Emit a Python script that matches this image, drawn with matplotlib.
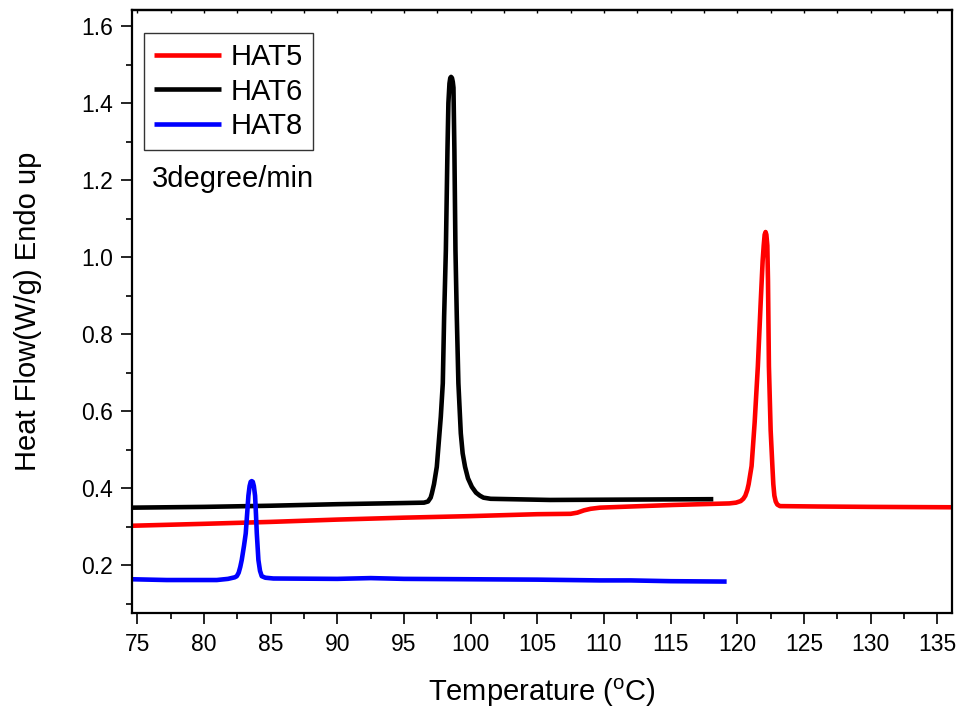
import matplotlib
matplotlib.use("Agg")
import matplotlib.pyplot as plt
from matplotlib.ticker import MultipleLocator

plt.rcParams['font.family'] = ['Liberation Sans', 'DejaVu Sans']
plt.rcParams['mathtext.fontset'] = 'custom'
plt.rcParams['mathtext.rm'] = 'Liberation Sans'
plt.rcParams['mathtext.it'] = 'Liberation Sans'

# ---- data ----
hat5_T = [74.6, 80, 85, 90, 95, 100, 105, 107.5, 108.0, 108.5, 109.0, 109.7, 112, 115.2, 119.4, 119.9,
          120.25, 120.45, 120.6, 120.75, 120.85, 121.07, 121.3, 121.54, 121.75, 121.9, 121.98, 122.05,
          122.12, 122.18, 122.25, 122.3, 122.37, 122.5, 122.63, 122.7, 122.78, 122.88, 123.0, 123.2,
          126, 130, 136.1]
hat5_Q = [0.302, 0.307, 0.312, 0.318, 0.323, 0.327, 0.332, 0.333, 0.336, 0.342, 0.346, 0.349, 0.352, 0.356, 0.360, 0.362,
          0.366, 0.372, 0.380, 0.395, 0.410, 0.457, 0.570, 0.716, 0.880, 0.990, 1.030, 1.058,
          1.065, 1.058, 1.030, 0.940, 0.716, 0.550, 0.457, 0.410, 0.380, 0.365, 0.357, 0.353,
          0.352, 0.351, 0.350]

hat6_T = [74.6, 80, 85, 90, 95, 96.5, 96.8, 97.0, 97.09, 97.25, 97.46, 97.76, 97.91, 98.01, 98.14,
          98.26, 98.33, 98.41, 98.47, 98.53, 98.6, 98.66, 98.71, 98.78, 98.86, 98.96, 99.08, 99.26,
          99.4, 99.58, 99.8, 100.09, 100.4, 100.7, 100.96, 101.5, 105.96, 118.2]
hat6_Q = [0.349, 0.351, 0.354, 0.358, 0.361, 0.362, 0.365, 0.375, 0.386, 0.410, 0.455, 0.585, 0.672, 0.845, 1.018,
          1.278, 1.400, 1.451, 1.465, 1.468, 1.465, 1.455, 1.440, 1.278, 1.018, 0.845, 0.672, 0.542,
          0.490, 0.455, 0.425, 0.403, 0.388, 0.380, 0.375, 0.372, 0.369, 0.371]

hat8_T = [74.6, 77.2, 80.96, 81.8, 82.3, 82.46, 82.6, 82.72, 82.83, 83.0, 83.13, 83.25, 83.33, 83.42,
          83.5, 83.58, 83.66, 83.74, 83.83, 83.9, 83.96, 84.08, 84.2, 84.33, 84.6, 85.2,
          90, 92.5, 95, 100, 105, 109.7, 112, 115, 119.2]
hat8_Q = [0.163, 0.161, 0.161, 0.164, 0.168, 0.171, 0.180, 0.195, 0.213, 0.250, 0.282, 0.340, 0.380, 0.405,
          0.416, 0.418, 0.416, 0.405, 0.380, 0.330, 0.282, 0.213, 0.185, 0.171, 0.167, 0.165,
          0.164, 0.166, 0.164, 0.163, 0.162, 0.160, 0.160, 0.158, 0.157]

series_names = ["HAT5", "HAT6", "HAT8"]
series_colors = ["#FF0000", "#000000", "#0000FF"]

fig = plt.figure(figsize=(9.62, 7.15), dpi=100)
ax = fig.add_axes([0.1375, 0.1422, 0.8518, 0.8445])

for T, Q, name, c in zip([hat5_T, hat6_T, hat8_T], [hat5_Q, hat6_Q, hat8_Q], series_names, series_colors):
    ax.plot(T, Q, color=c, lw=3.3, label=name, solid_joinstyle='round', solid_capstyle='butt')

ax.set_xlim(74.62, 136.08)
ax.set_ylim(0.0745, 1.643)

ax.xaxis.set_major_locator(MultipleLocator(5))
ax.xaxis.set_minor_locator(MultipleLocator(2.5))
ax.yaxis.set_major_locator(MultipleLocator(0.2))
ax.yaxis.set_minor_locator(MultipleLocator(0.1))
ax.yaxis.set_major_formatter(plt.FuncFormatter(lambda v, p: f"{v:.1f}"))

ax.tick_params(axis='both', which='major', direction='out', length=8, width=1.2, labelsize=16.5, pad=6)
ax.tick_params(axis='both', which='minor', direction='out', length=4.5, width=1.2)
ax.tick_params(axis='x', which='both', top=False)

for s in ax.spines.values():
    s.set_linewidth(1.6)

# small inward ticks along the top frame
secx = ax.secondary_xaxis('top')
secx.xaxis.set_major_locator(MultipleLocator(2.5))
secx.tick_params(axis='x', which='both', direction='in', length=2, width=1.0, labeltop=False)
secx.spines['top'].set_linewidth(1.6)

ax.set_xlabel("Temperature ($^{\\mathrm{o}}$C)", fontsize=21, labelpad=15)
ax.set_ylabel("Heat Flow(W/g) Endo up", fontsize=21, labelpad=28)

leg = ax.legend(loc='upper left', bbox_to_anchor=(0.0143, 0.961), borderaxespad=0,
                fontsize=21, frameon=True, fancybox=False, framealpha=1,
                handlelength=2.3, handletextpad=0.32, labelspacing=0.22, borderpad=0.35)
leg.get_frame().set_edgecolor('#333333')
leg.get_frame().set_linewidth(1.0)

ax.text(76.08, 1.183, "3degree/min", fontsize=21, ha='left', va='baseline')

fig.savefig("out.png", dpi=100)
